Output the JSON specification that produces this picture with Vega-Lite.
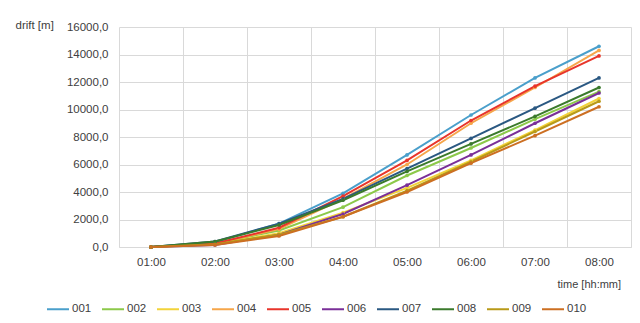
{
  "$schema": "https://vega.github.io/schema/vega-lite/v6.json",
  "width": 512,
  "height": 220,
  "autosize": "none",
  "padding": {"left": 119, "top": 27, "right": 9, "bottom": 76},
  "background": "white",
  "config": {
    "font": "Liberation Sans",
    "view": {"stroke": null}
  },
  "datasets": {
    "wide": [
      {"time": "01:00", "s001": 0, "s002": 0, "s003": 0, "s004": 0, "s005": 0, "s006": 0, "s007": 0, "s008": 0, "s009": 0, "s010": 0},
      {"time": "02:00", "s001": 350, "s002": 250, "s003": 200, "s004": 250, "s005": 250, "s006": 150, "s007": 400, "s008": 400, "s009": 200, "s010": 150},
      {"time": "03:00", "s001": 1700, "s002": 1200, "s003": 1000, "s004": 1300, "s005": 1400, "s006": 900, "s007": 1700, "s008": 1600, "s009": 900, "s010": 800},
      {"time": "04:00", "s001": 3900, "s002": 2900, "s003": 2500, "s004": 3500, "s005": 3700, "s006": 2400, "s007": 3500, "s008": 3400, "s009": 2200, "s010": 2200},
      {"time": "05:00", "s001": 6700, "s002": 5200, "s003": 4300, "s004": 6000, "s005": 6300, "s006": 4500, "s007": 5700, "s008": 5500, "s009": 4100, "s010": 4000},
      {"time": "06:00", "s001": 9600, "s002": 7200, "s003": 6300, "s004": 9000, "s005": 9200, "s006": 6700, "s007": 7900, "s008": 7500, "s009": 6200, "s010": 6100},
      {"time": "07:00", "s001": 12300, "s002": 9300, "s003": 8500, "s004": 11600, "s005": 11700, "s006": 9000, "s007": 10100, "s008": 9500, "s009": 8400, "s010": 8100},
      {"time": "08:00", "s001": 14600, "s002": 11300, "s003": 10800, "s004": 14300, "s005": 13900, "s006": 11200, "s007": 12300, "s008": 11600, "s009": 10600, "s010": 10200}
    ]
  },
  "data": {"name": "wide"},
  "transform": [
    {"fold": ["s001", "s002", "s003", "s004", "s005", "s006", "s007", "s008", "s009", "s010"], "as": ["key", "drift"]},
    {"calculate": "substring(datum.key, 1)", "as": "series"}
  ],
  "mark": {"type": "line", "strokeWidth": 2, "point": {"filled": true, "size": 14}},
  "encoding": {
    "x": {
      "field": "time",
      "type": "ordinal",
      "bandPosition": 0.5,
      "scale": {"type": "band", "paddingInner": 0, "paddingOuter": 0},
      "axis": {
        "title": "time [hh:mm]",
        "titleAnchor": "start",
        "titleX": 438,
        "titleY": 37,
        "titleAlign": "left",
        "titleBaseline": "middle",
        "titleFontSize": 11,
        "titleFontWeight": "normal",
        "titleColor": "#404040",
        "labelAngle": 0,
        "labelFontSize": 11.5,
        "labelColor": "#404040",
        "labelPadding": 9,
        "tickBand": "extent",
        "ticks": false,
        "grid": true,
        "gridColor": "#d9d9d9",
        "domainColor": "#d9d9d9"
      }
    },
    "y": {
      "field": "drift",
      "type": "quantitative",
      "scale": {"domain": [0, 16000], "nice": false},
      "axis": {
        "values": [0, 2000, 4000, 6000, 8000, 10000, 12000, 14000, 16000],
        "labelExpr": "replace(format(datum.value, '.1f'), '.', ',')",
        "labelFontSize": 11.5,
        "labelColor": "#404040",
        "labelPadding": 11,
        "ticks": false,
        "domain": false,
        "gridColor": "#d9d9d9",
        "title": "drift [m]",
        "titleAngle": 0,
        "titleAlign": "left",
        "titleBaseline": "middle",
        "titleX": -104,
        "titleY": -2,
        "titleFontSize": 11.5,
        "titleFontWeight": "normal",
        "titleColor": "#404040"
      }
    },
    "color": {
      "field": "series",
      "type": "nominal",
      "scale": {
        "domain": ["001", "002", "003", "004", "005", "006", "007", "008", "009", "010"],
        "range": ["#4a9fcb", "#8cc94a", "#f2d33a", "#f6a64a", "#e8352b", "#7a2f98", "#2a5882", "#3b7a2c", "#b89a18", "#cc6f22"]
      },
      "legend": {
        "title": null,
        "orient": "none",
        "direction": "horizontal",
        "legendX": -73,
        "legendY": 270,
        "symbolType": "stroke",
        "symbolSize": 484,
        "symbolStrokeWidth": 2,
        "labelFontSize": 11.5,
        "labelColor": "#404040",
        "labelOffset": 2,
        "columnPadding": 6,
        "columns": 10
      }
    }
  }
}
